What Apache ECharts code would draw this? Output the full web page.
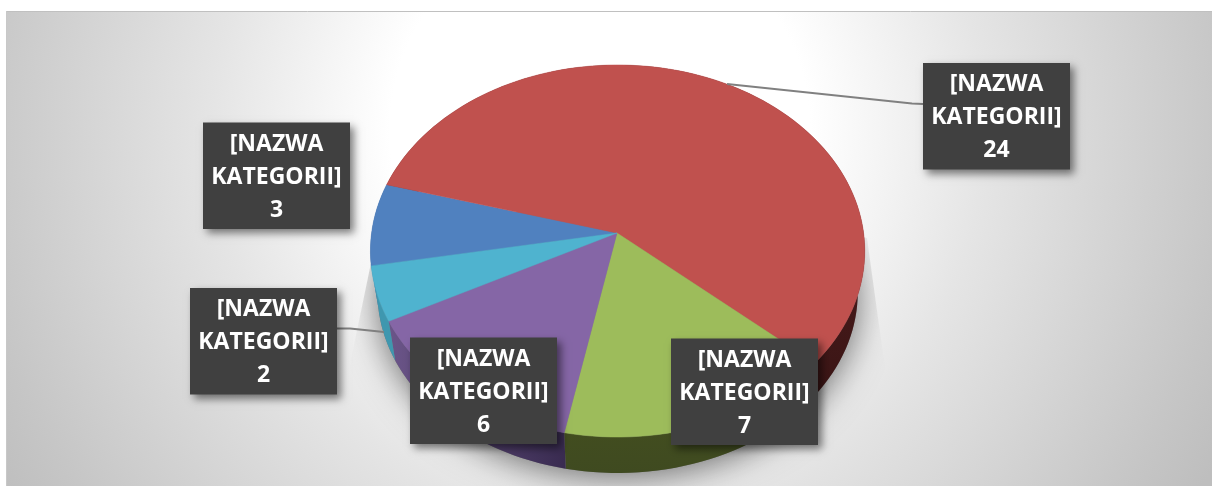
<!DOCTYPE html>
<html><head><meta charset="utf-8">
<style>html,body{margin:0;padding:0;background:#fff}#c{width:1212px;height:486px}</style>
<script src="https://cdn.jsdelivr.net/npm/echarts@6/dist/echarts.min.js"></script>
</head><body><div id="c"></div>
<script>
var categories = ['[NAZWA KATEGORII]','[NAZWA KATEGORII]','[NAZWA KATEGORII]','[NAZWA KATEGORII]','[NAZWA KATEGORII]'];
var values = [3, 24, 7, 6, 2];
var labelText = ['[NAZWA', 'KATEGORII]'];

var topColors = ['#5081bf','#c0514e','#9dbc5b','#8566a6','#4fb3cf'];
var wallColors = [['#3b618f','#3b618f'],['#5a2626','#3a1414'],['#46521f','#3f4a20'],['#6b5589','#392b50'],['#3f97af','#3f97af']];
var labelBoxes = [
  {x:203,y:122.5},
  {x:923,y:63,leader:[[923,104],[912,103.5],[727,84]]},
  {x:671,y:338.5},
  {x:410,y:337.5},
  {x:190,y:288,leader:[[336,328.5],[350,328.5],[384,332]]}
];
var BOX_W=147, BOX_H=106.5;
var startDeg = 190.1;
var topDisc = {cx:617.6,y0:233,a:246,b:184.3,p:0.0968};
var botDisc = {cx:617.6,y0:275,a:239,b:178.8,p:0.0968};

function pt(d,deg){var t=deg*Math.PI/180,X=Math.cos(t),Y=Math.sin(t),w=1+d.p*Y;return [d.cx+d.a*X/w,d.y0-d.b*Y/w];}
function arc(d,a0,a1){var out=[],n=Math.max(2,Math.ceil(Math.abs(a1-a0)/2));for(var i=0;i<=n;i++)out.push(pt(d,a0+(a1-a0)*i/n));return out;}
var total=values.reduce(function(s,v){return s+v;},0);
function range(i){var s=0;for(var k=0;k<i;k++)s+=values[k];return [startDeg-s/total*360,startDeg-(s+values[i])/total*360];}

function renderHalo(){
  return {type:'polygon',silent:true,
    shape:{points:arc(botDisc,0,360)},
    style:{fill:'#777',shadowBlur:34,shadowColor:'rgba(0,0,0,0.55)',shadowOffsetY:4,shadowOffsetX:0},
    clipPath:{type:'polygon',shape:{points:[[867,238],[882,347],[905,486],[330,486],[353,350],[372,258],[617,180]]}}};
}
function renderWall(params,api){
  var i=api.value(1),r=range(i),c=wallColors[i];
  var pts=arc(topDisc,r[0],r[1]).concat(arc(botDisc,r[1],r[0]));
  var horiz=(i===3);
  return {type:'polygon',shape:{points:pts},style:{fill:new echarts.graphic.LinearGradient(0,0,horiz?1:0,horiz?0:1,[{offset:0,color:c[0]},{offset:1,color:c[1]}])}};
}
function renderTop(params,api){
  var i=api.value(1),r=range(i);
  var pts=[[617,233]].concat(arc(topDisc,r[0],r[1]));
  return {type:'polygon',shape:{points:pts},style:{fill:topColors[i],stroke:topColors[i],lineWidth:0.5}};
}
function renderLabel(params,api){
  var i=api.value(1),b=labelBoxes[i],kids=[];
  if(b.leader)kids.push({type:'polyline',shape:{points:b.leader},style:{stroke:'#808080',lineWidth:1.8,fill:null}});
  kids.push({type:'rect',shape:{x:b.x,y:b.y,width:BOX_W,height:BOX_H},style:{fill:'#404040',shadowBlur:8,shadowOffsetX:4,shadowOffsetY:4,shadowColor:'rgba(0,0,0,0.5)'}});
  var lines=[labelText[0],labelText[1],String(values[i])];
  lines.forEach(function(t,k){
    kids.push({type:'text',style:{text:t,x:b.x+BOX_W/2,y:b.y+21.5+k*33.2,align:'center',verticalAlign:'middle',fill:'#fff',font:'700 23px "Open Sans"'}});
  });
  return {type:'group',children:kids};
}
var rows=values.map(function(v,i){return [v,i,categories[i]];});
var chart=echarts.init(document.getElementById('c'),null,{renderer:'canvas'});
chart.setOption({
  animation:false,
  tooltip:{show:false},
  graphic:[{type:'rect',z:-10,silent:true,shape:{x:6,y:11,width:1206,height:475},
    style:{fill:new echarts.graphic.RadialGradient(600,130,700,[{offset:0,color:'#ffffff'},{offset:0.3,color:'#ffffff'},{offset:0.55,color:'#e5e5e5'},{offset:0.9,color:'#c6c6c6'},{offset:1,color:'#bebebe'}],true),stroke:null}},
    {type:'line',z:-9,silent:true,shape:{x1:6,y1:11.5,x2:1212,y2:11.5},style:{stroke:'#c0c0c0',lineWidth:1}},
    {type:'line',z:-9,silent:true,shape:{x1:6.5,y1:11,x2:6.5,y2:486},style:{stroke:'#c8c8c8',lineWidth:1}}],
  series:[
    {type:'custom',coordinateSystem:'none',z:1,data:[[0,0]],renderItem:renderHalo,silent:true},
    {type:'custom',coordinateSystem:'none',z:2,data:rows,renderItem:renderWall,silent:true},
    {type:'custom',coordinateSystem:'none',z:3,data:rows,renderItem:renderTop,silent:true},
    {type:'custom',coordinateSystem:'none',z:4,data:rows,renderItem:renderLabel,silent:true}
  ]
});
</script></body></html>
